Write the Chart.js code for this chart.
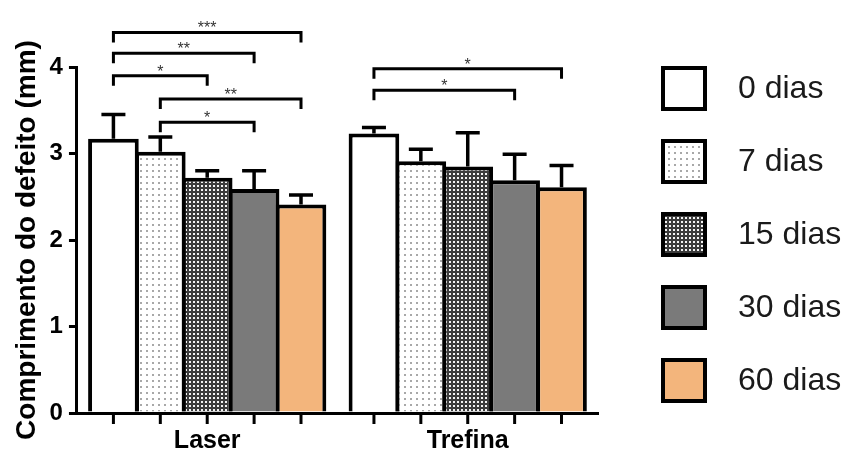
<!DOCTYPE html>
<html>
<head>
<meta charset="utf-8">
<script src="https://cdn.jsdelivr.net/npm/chart.js@4/dist/chart.umd.min.js"></script>
<style>
html, body { margin: 0; padding: 0; background: #fff; }
#wrap { width: 849px; height: 456px; }
</style>
</head>
<body>
<div id="wrap"><canvas id="myChart"></canvas></div>
<script>
// Dados
const groups = ["Laser", "Trefina"];
const seriesNames = ["0 dias", "7 dias", "15 dias", "30 dias", "60 dias"];
const meanLaser = [3.17, 3.02, 2.72, 2.59, 2.41];
const meanTrefina = [3.23, 2.91, 2.85, 2.69, 2.61];
const sdLaser = [0.28, 0.17, 0.08, 0.21, 0.11];
const sdTrefina = [0.07, 0.14, 0.39, 0.30, 0.25];
const yTicks = [0, 1, 2, 3, 4];

// Comparações: grupo, barra inicial, barra final, altura (mm), texto
const sigGroup = [0, 0, 0, 0, 0, 1, 1];
const sigFrom = [0, 0, 0, 1, 1, 0, 0];
const sigTo = [4, 3, 2, 4, 3, 4, 3];
const sigLevel = [4.40, 4.16, 3.90, 3.63, 3.36, 3.98, 3.73];
const sigText = ["***", "**", "*", "**", "*", "*", "*"];

const FONT = "'Liberation Sans', Arial, sans-serif";
Chart.defaults.font.family = FONT;
Chart.defaults.color = "#000";

//Cria os padrões de preenchimento
function makePattern(w, h, bg, dotColor, dots, size) {
    const c = document.createElement("canvas");
    c.width = w;
    c.height = h;
    const g = c.getContext("2d");
    g.fillStyle = bg;
    g.fillRect(0, 0, w, h);
    g.fillStyle = dotColor;
    dots.forEach(d => g.fillRect(d[0], d[1], size, size));
    return g.createPattern(c, "repeat");
}

const fills = [
    "#ffffff",
    makePattern(6, 6, "#ffffff", "#a8a8a8", [[2, 2]], 2),
    makePattern(4, 4, "#3c3c3c", "#f4f4f4", [[1, 1]], 2),
    "#7a7a7a",
    "#f3b57c"
];

const datasets = seriesNames.map((name, i) => ({
    label: name,
    data: [meanLaser[i], meanTrefina[i]],
    backgroundColor: fills[i],
    borderColor: "#000",
    borderWidth: 4,
    barPercentage: 1.08,
    categoryPercentage: 0.9
}));

//Barras de erro, marcas do eixo x e colchetes de significância
const extras = {
    id: "extras",
    afterDatasetsDraw(chart) {
        const ctx = chart.ctx;
        const y = chart.scales.y;
        const sds = [sdLaser, sdTrefina];
        const means = [meanLaser, meanTrefina];
        ctx.save();
        ctx.strokeStyle = "#000";
        ctx.lineWidth = 3.5;
        ctx.lineCap = "butt";
        for (let i = 0; i < seriesNames.length; i++) {
            const meta = chart.getDatasetMeta(i);
            meta.data.forEach((bar, j) => {
                const top = y.getPixelForValue(means[j][i]);
                const end = y.getPixelForValue(means[j][i] + sds[j][i]);
                ctx.beginPath();
                ctx.moveTo(bar.x, top);
                ctx.lineTo(bar.x, end);
                ctx.moveTo(bar.x - 12, end);
                ctx.lineTo(bar.x + 12, end);
                ctx.stroke();
                // marca no eixo x
                ctx.lineWidth = 3;
                ctx.beginPath();
                ctx.moveTo(bar.x, y.bottom + 1);
                ctx.lineTo(bar.x, y.bottom + 11);
                ctx.stroke();
                ctx.lineWidth = 3.5;
            });
        }
        ctx.lineWidth = 3;
        ctx.font = "16px " + FONT;
        ctx.fillStyle = "#333";
        ctx.textAlign = "center";
        ctx.textBaseline = "alphabetic";
        for (let k = 0; k < sigText.length; k++) {
            const a = chart.getDatasetMeta(sigFrom[k]).data[sigGroup[k]];
            const b = chart.getDatasetMeta(sigTo[k]).data[sigGroup[k]];
            const ly = y.getPixelForValue(sigLevel[k]);
            ctx.beginPath();
            ctx.moveTo(a.x, ly + 10);
            ctx.lineTo(a.x, ly);
            ctx.lineTo(b.x, ly);
            ctx.lineTo(b.x, ly + 10);
            ctx.stroke();
            ctx.fillText(sigText[k], (a.x + b.x) / 2, ly + 1);
        }
        ctx.restore();
    },
    afterDraw(chart) {
        const ctx = chart.ctx;
        const left = chart.chartArea.right + 63;
        ctx.save();
        ctx.font = "32px " + FONT;
        ctx.textAlign = "left";
        ctx.textBaseline = "middle";
        chart.data.datasets.forEach((ds, i) => {
            const top = 66 + i * 73;
            ctx.fillStyle = ds.backgroundColor;
            ctx.fillRect(left, top, 46, 45);
            ctx.strokeStyle = "#000";
            ctx.lineWidth = 4;
            ctx.strokeRect(left + 2, top + 2, 42, 41);
            ctx.fillStyle = "#1a1a1a";
            ctx.fillText(ds.label, left + 77, top + 23);
        });
        ctx.restore();
    }
};

const config = {
    type: "bar",
    data: { labels: groups, datasets: datasets },
    options: {
        responsive: true,
        maintainAspectRatio: false,
        animation: false,
        layout: { padding: { top: 67, right: 251, bottom: 0, left: 0 } },
        plugins: {
            legend: { display: false },
            tooltip: { enabled: false }
        },
        scales: {
            x: {
                offset: true,
                grid: { display: false, drawTicks: true, tickLength: 14 },
                border: { display: true, color: "#000", width: 3 },
                ticks: { color: "#000", padding: 2, font: { size: 25, weight: "bold", lineHeight: 1 } }
            },
            y: {
                min: 0,
                max: 4,
                afterBuildTicks: axis => { axis.ticks = yTicks.map(v => ({ value: v })); },
                grid: { drawOnChartArea: false, color: "#000", lineWidth: 3, tickLength: 8 },
                border: { color: "#000", width: 3 },
                ticks: { color: "#000", padding: 6, font: { size: 24, weight: "bold" } },
                title: {
                    display: true,
                    text: "Comprimento do defeito (mm)",
                    color: "#000",
                    font: { size: 28, weight: "bold" },
                    padding: { top: 10, bottom: 0 }
                }
            }
        }
    },
    plugins: [extras]
};

const myChart = new Chart(document.getElementById("myChart"), config);
</script>
</body>
</html>
